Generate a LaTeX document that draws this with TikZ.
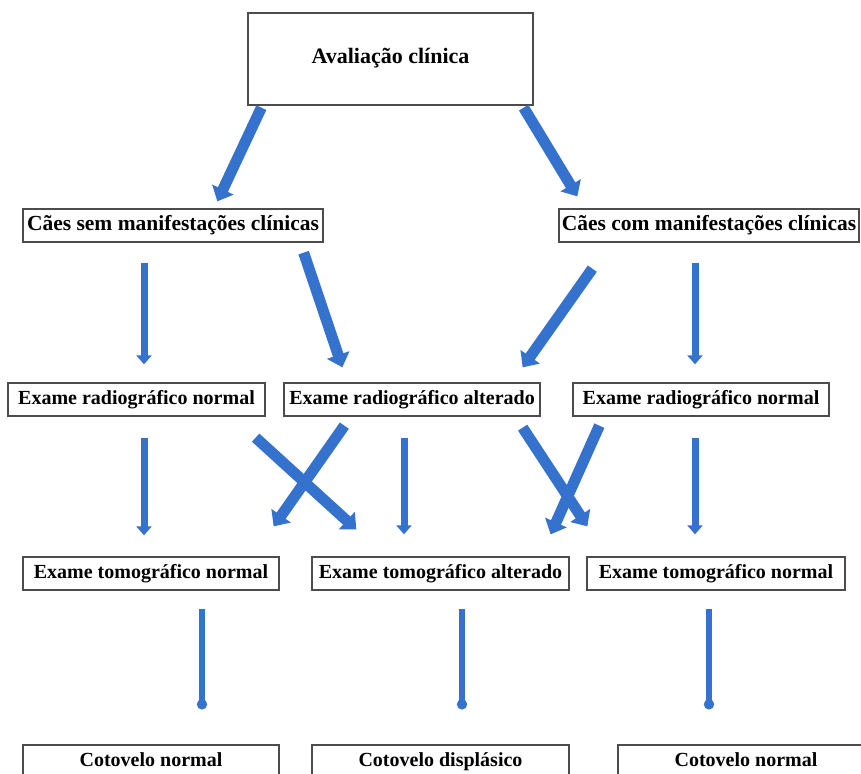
\documentclass[tikz,border=0pt]{standalone}
\usepackage{fontspec}
\setmainfont{Liberation Serif}
\usepackage{tikz}
\usetikzlibrary{arrows.meta}

\definecolor{azulseta}{RGB}{52,114,206}

\begin{document}
\begin{tikzpicture}[x=1pt,y=-1pt,
	caixa/.style={draw=black!70,line width=1.3pt,fill=white,inner sep=2pt,minimum height=33pt,text height=14pt,text depth=4pt,font=\bfseries\fontsize{20}{23}\selectfont},
	setagrossa/.style={draw=azulseta,line width=11pt,-{Triangle[width=23pt,length=13pt]}},
	setafina/.style={draw=azulseta,line width=7pt,-{Triangle[width=15pt,length=9pt]}},
	setabola/.style={draw=azulseta,line width=6pt,-{Circle[length=10pt]}}]

		\useasboundingbox (0,0) rectangle (861,773);
		\clip (0,0) rectangle (861,773);

		\node (AvaliacaoClinica) at (390.5,59) [caixa,minimum width=285pt,minimum height=92pt,font=\bfseries\fontsize{22}{25}\selectfont]{Avaliação clínica};

		\node (CaesSemSinais) at (173,225.5) [caixa,minimum width=300pt,font=\bfseries\fontsize{21.5}{24}\selectfont]{Cães sem manifestações clínicas};
		\node (CaesComSinais) at (709,225.5) [caixa,minimum width=300pt,font=\bfseries\fontsize{21.5}{24}\selectfont]{Cães com manifestações clínicas};

		\node (RadNormalA) at (136.5,399.5) [caixa,minimum width=257pt]{Exame radiográfico normal};
		\node (RadAlterado) at (412,399.5) [caixa,minimum width=256pt]{Exame radiográfico alterado};
		\node (RadNormalB) at (701,399.5) [caixa,minimum width=256pt]{Exame radiográfico normal};

		\node (TomoNormalA) at (151,573.5) [caixa,minimum width=256pt]{Exame tomográfico normal};
		\node (TomoAlterado) at (440.5,573.5) [caixa,minimum width=257pt]{Exame tomográfico alterado};
		\node (TomoNormalB) at (716,573.5) [caixa,minimum width=258pt]{Exame tomográfico normal};

		\node (CotoveloNormalA) at (151,761.5) [caixa,minimum width=256pt]{Cotovelo normal};
		\node (CotoveloDisplasico) at (440.5,761.5) [caixa,minimum width=257pt]{Cotovelo displásico};
		\node (CotoveloNormalB) at (746,761.5) [caixa,minimum width=256pt]{Cotovelo normal};

		\draw [setagrossa] ([xshift=14pt,yshift=-2pt]AvaliacaoClinica.south west) -- ([xshift=195pt,yshift=7pt]CaesSemSinais.north west);
		\draw [setagrossa] ([xshift=-10pt,yshift=-2pt]AvaliacaoClinica.south east) -- ([xshift=19pt,yshift=12pt]CaesComSinais.north west);

		\draw [setafina] ([xshift=-29pt,yshift=-20pt]CaesSemSinais.south) -- ([xshift=7.5pt,yshift=18pt]RadNormalA.north);
		\draw [setagrossa] ([xshift=-20pt,yshift=-10pt]CaesSemSinais.south east) -- ([xshift=59pt,yshift=15pt]RadAlterado.north west);
		\draw [setagrossa] ([xshift=34pt,yshift=-26pt]CaesComSinais.south west) -- ([xshift=-18pt,yshift=15pt]RadAlterado.north east);
		\draw [setafina] ([xshift=-14pt,yshift=-20pt]CaesComSinais.south) -- ([xshift=-6pt,yshift=18pt]RadNormalB.north);

		\draw [setafina] ([xshift=7.5pt,yshift=-21pt]RadNormalA.south) -- ([xshift=-7pt,yshift=21pt]TomoNormalA.north);
		\draw [setagrossa] ([xshift=-10pt,yshift=-21pt]RadNormalA.south east) -- ([xshift=45pt,yshift=27pt]TomoAlterado.north west);
		\draw [setagrossa] ([xshift=61pt,yshift=-9pt]RadAlterado.south west) -- ([xshift=-6pt,yshift=30pt]TomoNormalA.north east);
		\draw [setafina] ([xshift=-8pt,yshift=-21pt]RadAlterado.south) -- ([xshift=-36.5pt,yshift=22pt]TomoAlterado.north);
		\draw [setagrossa] ([xshift=-18pt,yshift=-11pt]RadAlterado.south east) -- ([xshift=1pt,yshift=30pt]TomoNormalB.north west);
		\draw [setagrossa] ([xshift=27pt,yshift=-9pt]RadNormalB.south west) -- ([xshift=-19pt,yshift=22pt]TomoAlterado.north east);
		\draw [setafina] ([xshift=-6pt,yshift=-21pt]RadNormalB.south) -- ([xshift=-21pt,yshift=22pt]TomoNormalB.north);

		\draw [setabola] ([xshift=51pt,yshift=-18pt]TomoNormalA.south) -- ([xshift=51pt,yshift=35pt]CotoveloNormalA.north);
		\draw [setabola] ([xshift=21.5pt,yshift=-18pt]TomoAlterado.south) -- ([xshift=21.5pt,yshift=35pt]CotoveloDisplasico.north);
		\draw [setabola] ([xshift=-7pt,yshift=-18pt]TomoNormalB.south) -- ([xshift=-37pt,yshift=35pt]CotoveloNormalB.north);
	\end{tikzpicture}
\end{document}
